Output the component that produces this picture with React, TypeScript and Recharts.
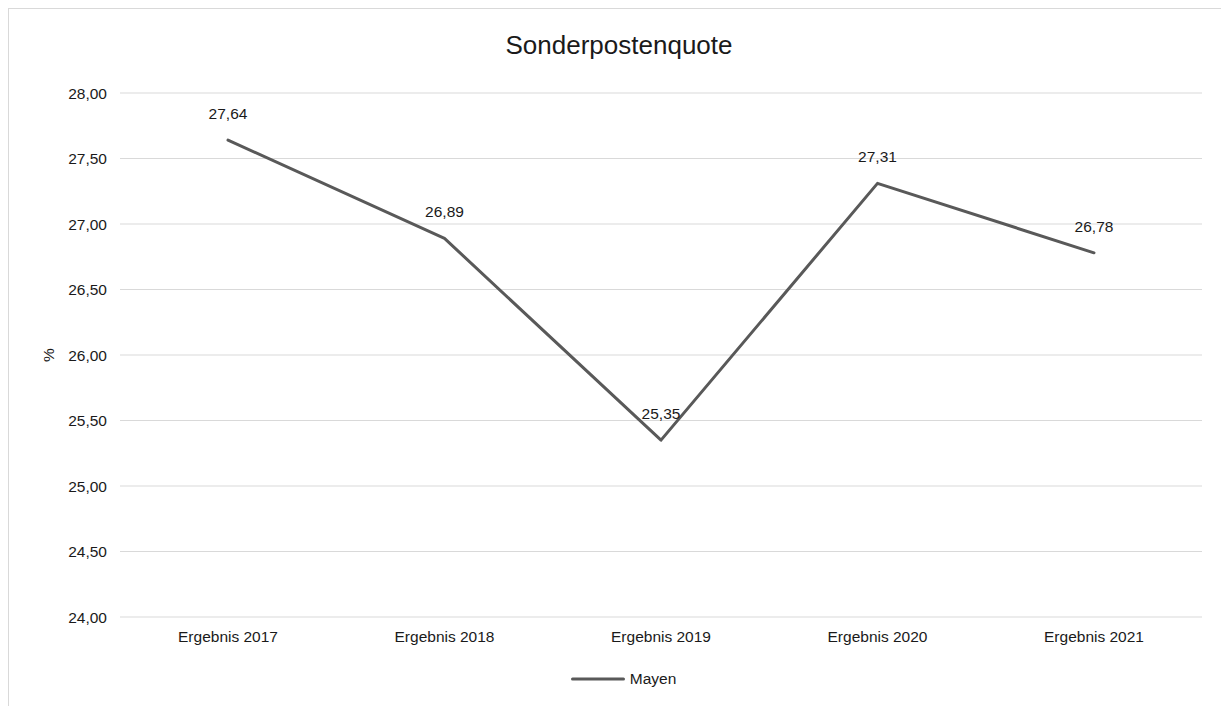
import React from 'react';
import { LineChart, Line, XAxis, YAxis, CartesianGrid, Legend, LabelList } from 'recharts';

const categories = ['Ergebnis 2017', 'Ergebnis 2018', 'Ergebnis 2019', 'Ergebnis 2020', 'Ergebnis 2021'];
const mayen = [27.64, 26.89, 25.35, 27.31, 26.78];
const yTicks = [24, 24.5, 25, 25.5, 26, 26.5, 27, 27.5, 28];
const seriesName = 'Mayen';
const title = 'Sonderpostenquote';
const yLabel = '%';

const data = categories.map((c, i) => ({ category: c, value: mayen[i] }));

const FONT = '"Liberation Sans", Arial, Helvetica, sans-serif';
const fmt = (v: number) => v.toFixed(2).replace('.', ',');

const LegendContent = () => (
  <div style={{ display: 'flex', justifyContent: 'center', alignItems: 'center', height: 20, fontFamily: FONT, fontSize: 15.5, color: '#1a1a1a' }}>
    <svg width={54} height={6} style={{ display: 'block' }}>
      <line x1={1.5} y1={3} x2={52.5} y2={3} stroke="#595959" strokeWidth={3} strokeLinecap="round" />
    </svg>
    <span style={{ marginLeft: 5 }}>{seriesName}</span>
  </div>
);

export default function App() {
  return (
    <div style={{ position: 'relative', width: 1220, height: 697, borderTop: '1px solid #d9d9d9', borderLeft: '1px solid #d9d9d9', background: '#fff', overflow: 'hidden' }}>
      <div style={{ position: 'absolute', top: 23, left: 0, width: 1220, textAlign: 'center', fontFamily: FONT, fontSize: 26, lineHeight: '26px', color: '#1a1a1a' }}>{title}</div>
      <LineChart width={1220} height={697} data={data} margin={{ top: 84, right: 27, left: 36, bottom: 29 }}>
        <CartesianGrid horizontal vertical={false} stroke="#d9d9d9" strokeWidth={1} />
        <XAxis
          dataKey="category"
          axisLine={false}
          tickLine={false}
          tickSize={0}
          tickMargin={14}
          height={40}
          interval={0}
          padding={{ left: 108, right: 108 }}
          tick={{ fontFamily: FONT, fontSize: 15.5, fill: '#1a1a1a' }}
        />
        <YAxis
          domain={[24, 28]}
          ticks={yTicks}
          width={75}
          axisLine={false}
          tickLine={false}
          tickSize={0}
          tickMargin={13}
          tickFormatter={fmt}
          tick={{ fontFamily: FONT, fontSize: 15.5, fill: '#1a1a1a' }}
          label={{
            content: (props: any) => {
              const vb = props.viewBox || { x: 36, y: 84, width: 75, height: 524 };
              const x = vb.x + 3;
              const y = vb.y + vb.height / 2;
              return (
                <text x={x} y={y} transform={`rotate(-90 ${x} ${y})`} textAnchor="middle" dominantBaseline="central" fontFamily={FONT} fontSize={15.5} fill="#1a1a1a">{yLabel}</text>
              );
            },
          }}
        />
        <Legend verticalAlign="bottom" content={LegendContent} wrapperStyle={{ bottom: 17 }} />
        <Line
          type="linear"
          dataKey="value"
          name={seriesName}
          stroke="#595959"
          strokeWidth={3}
          strokeLinecap="round"
          strokeLinejoin="round"
          dot={false}
          activeDot={false}
          isAnimationActive={false}
        >
          <LabelList dataKey="value" position="top" offset={21} formatter={(v: any) => fmt(Number(v))} style={{ fontFamily: FONT, fontSize: 15.5, fill: '#1a1a1a' }} />
        </Line>
      </LineChart>
    </div>
  );
}
